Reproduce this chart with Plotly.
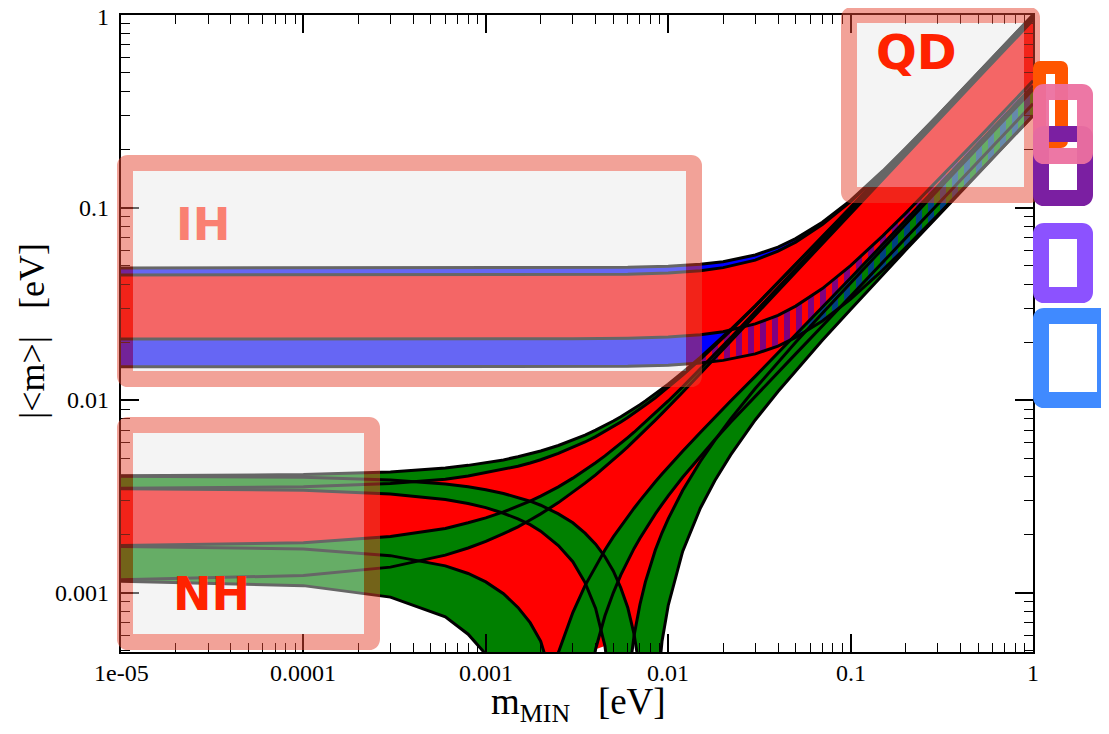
import numpy as np
import plotly.graph_objects as go

# ---------------- data ----------------
# lightest neutrino mass grid (eV) for the normal hierarchy curves
m_nh = [1e-5, 1e-4, 3e-4, 6e-4, 8e-4, 1e-3, 1.25e-3, 1.5e-3, 1.75e-3, 2e-3,
        2.5e-3, 3e-3, 3.5e-3, 4e-3, 4.5e-3, 5e-3, 5.5e-3, 6e-3, 6.5e-3, 7e-3,
        7.5e-3, 8.5e-3, 9.25e-3, 1e-2, 1.2e-2, 1.5e-2, 1.8e-2, 2.2e-2, 3e-2, 4e-2,
        5e-2, 7e-2, 0.1, 0.2, 0.5, 1.0]
# NH: rising upper band (outer / inner edge)
nh_s1_3s = [0.00405, 0.00411, 0.00424, 0.00445, 0.00459, 0.00473, 0.0049, 0.00509, 0.00527, 0.00545,
            0.00582, 0.0062, 0.00659, 0.00699, 0.00739, 0.0078, 0.00821, 0.00863, 0.00906, 0.00948,
            0.00992, 0.0108, 0.01147, 0.0121, 0.01396, 0.0167, 0.01958, 0.0233, 0.0309, 0.04093,
            0.0507, 0.07055, 0.1003, 0.200, 0.4995, 0.999]
nh_s1_bf = [0.00349, 0.00355, 0.00369, 0.00389, 0.00404, 0.0042, 0.00436, 0.00454, 0.00472, 0.00491,
            0.0053, 0.00568, 0.00607, 0.00647, 0.00688, 0.00729, 0.00771, 0.00813, 0.00856, 0.0090,
            0.00944, 0.0103, 0.011, 0.0117, 0.01352, 0.0163, 0.01919, 0.0230, 0.0308, 0.04067,
            0.0506, 0.0702, 0.0995, 0.198, 0.495, 0.99]
# NH: rising lower band
nh_s3_bf = [0.00176, 0.00182, 0.00196, 0.00216, 0.00231, 0.00245, 0.00263, 0.00281, 0.00299, 0.00318,
            0.00355, 0.00394, 0.00433, 0.00474, 0.00514, 0.00555, 0.00597, 0.0064, 0.00682, 0.00726,
            0.00769, 0.00857, 0.00924, 0.00991, 0.01174, 0.01453, 0.01735, 0.0211, 0.0288, 0.0385,
            0.0481, 0.0674, 0.0964, 0.1929, 0.482, 0.9645]
nh_s3_3s = [0.00117, 0.00123, 0.00136, 0.00157, 0.00171, 0.00185, 0.00203, 0.0022, 0.00239, 0.00257,
            0.00294, 0.00332, 0.00371, 0.0041, 0.0045, 0.0049, 0.00532, 0.00573, 0.00615, 0.00658,
            0.00701, 0.00788, 0.00854, 0.0092, 0.011, 0.01375, 0.01652, 0.02025, 0.0278, 0.03723,
            0.0467, 0.06557, 0.0939, 0.1881, 0.4705, 0.941]
# NH: band falling from the upper level (cancellation, then rising again)
nh_s2_bf = [0.00347, 0.00341, 0.00326, 0.00305, 0.00291, 0.00277, 0.00259, 0.00242, 0.00226, 0.00209,
            0.00176, 0.00145, 0.00113, 0.00083, 0.00053, 0.00024, 0.00005, 0.00033, 0.0006, 0.00087,
            0.00114, 0.00167, 0.00205, 0.00242, 0.0034, 0.00481, 0.00619, 0.0080, 0.0115, 0.0157,
            0.0200, 0.0283, 0.0407, 0.082, 0.205, 0.410]
nh_s2_3s = [0.00403, 0.00398, 0.00385, 0.00367, 0.00355, 0.00343, 0.00328, 0.00313, 0.00299, 0.00285,
            0.00257, 0.00231, 0.00204, 0.00179, 0.00154, 0.0013, 0.00106, 0.00084, 0.00061, 0.00039,
            0.00017, 0.00025, 0.00056, 0.00086, 0.00164, 0.00275, 0.00382, 0.0052, 0.0079, 0.0111,
            0.0142, 0.0205, 0.0296, 0.060, 0.150, 0.301]
# NH: band falling from the lower level
nh_s4_bf = [0.00174, 0.00169, 0.00156, 0.00138, 0.00126, 0.00114, 0.00099, 0.00084, 0.0007, 0.00056,
            0.00028, 0.00001, 0.00025, 0.00051, 0.00076, 0.0010, 0.00124, 0.00147, 0.0017, 0.00192,
            0.00214, 0.00257, 0.00288, 0.00319, 0.00398, 0.00512, 0.00623, 0.00768, 0.0105, 0.0140,
            0.0174, 0.0243, 0.0347, 0.0692, 0.173, 0.346]
nh_s4_3s = [0.00115, 0.00109, 0.00095, 0.00075, 0.00061, 0.00048, 0.00031, 0.00015, 0.00001, 0.00017,
            0.00049, 0.00079, 0.00109, 0.00138, 0.00167, 0.00195, 0.00222, 0.00249, 0.00275, 0.00301,
            0.00327, 0.00377, 0.00414, 0.0045, 0.00544, 0.0068, 0.00814, 0.0099, 0.0133, 0.0176,
            0.0218, 0.0303, 0.0431, 0.0859, 0.2145, 0.429]

# inverted hierarchy
m_ih = [1e-5, 1e-3, 3e-3, 6e-3, 1e-2, 1.5e-2, 2e-2, 3e-2, 4e-2, 5e-2, 7e-2, 0.1, 0.15, 0.2, 0.3, 0.5, 0.7, 1.0]
ih_top_3s = [0.0486, 0.0486, 0.0487, 0.049, 0.0496, 0.0508, 0.0524, 0.0568, 0.0624, 0.069, 0.084, 0.109,
             0.155, 0.203, 0.301, 0.5, 0.7, 1.0]
ih_top_bf = [0.0447, 0.0447, 0.0448, 0.0451, 0.0457, 0.047, 0.0488, 0.0534, 0.0594, 0.0662, 0.0817, 0.1075,
             0.153, 0.2005, 0.297, 0.491, 0.686, 0.98]
ih_bot_bf = [0.0208, 0.0208, 0.02085, 0.021, 0.0213, 0.0219, 0.0227, 0.0249, 0.0276, 0.0308, 0.038, 0.050,
             0.0713, 0.0934, 0.138, 0.228, 0.319, 0.455]
ih_bot_3s = [0.0149, 0.0149, 0.0149, 0.0150, 0.0152, 0.0156, 0.0161, 0.0174, 0.0191, 0.0212, 0.0258, 0.0335,
             0.0474, 0.0618, 0.0912, 0.151, 0.21, 0.30]

x_tick_vals = [1e-5, 1e-4, 1e-3, 1e-2, 1e-1, 1]
x_tick_text = ["1e-05", "0.0001", "0.001", "0.01", "0.1", "1"]
y_tick_vals = [1e-3, 1e-2, 1e-1, 1]
y_tick_text = ["0.001", "0.01", "0.1", "1"]

# ---------------- styling ----------------
RED = "#ff0000"
GREEN = "#008000"
BLUE = "#0000ff"
W, H = 1101, 726          # page adds an 8 px body margin
L, T = 113, 7
PW, PH = 912, 637
R, B = W - L - PW, H - T - PH
SX, SY = L + 8, T + 8     # screen position of the plot area's top-left corner

fig = go.Figure()


def band(x, hi, lo, color, pattern=None):
    xs = list(x) + list(x)[::-1]
    ys = list(hi) + list(lo)[::-1]
    kw = {}
    if pattern is not None:
        kw["fillpattern"] = pattern
        color = "rgba(0,0,0,0)"
    fig.add_trace(go.Scatter(x=xs, y=ys, mode="lines", line=dict(width=0, color=color),
                             fill="toself", fillcolor=color, hoverinfo="skip",
                             showlegend=False, **kw))


def curve(x, y, width=3):
    fig.add_trace(go.Scatter(x=x, y=y, mode="lines", line=dict(color="black", width=width),
                             hoverinfo="skip", showlegend=False))


nh_all = np.array([nh_s1_3s, nh_s1_bf, nh_s3_bf, nh_s3_3s, nh_s2_bf, nh_s2_3s, nh_s4_bf, nh_s4_3s])

# IH base
band(m_ih, ih_top_bf, ih_bot_bf, RED)
band(m_ih, ih_top_3s, ih_top_bf, BLUE)
band(m_ih, ih_bot_bf, ih_bot_3s, BLUE)
# NH base
band(m_nh, nh_all.max(axis=0), nh_all.min(axis=0), RED)
band(m_nh, nh_s1_3s, nh_s1_bf, GREEN)
band(m_nh, nh_s3_bf, nh_s3_3s, GREEN)
band(m_nh, nh_s2_3s, nh_s2_bf, GREEN)
band(m_nh, nh_s4_bf, nh_s4_3s, GREEN)
# IH 3 sigma bands hatched over the overlap
stripes = dict(shape="|", fgcolor=BLUE, bgcolor="rgba(0,0,0,0)", size=12, solidity=0.5)
band(m_ih, ih_bot_bf, ih_bot_3s, BLUE, pattern=stripes)
band(m_ih, ih_top_3s, ih_top_bf, BLUE, pattern=stripes)

for yy in nh_all:
    curve(m_nh, list(yy))
for yy in (ih_top_3s, ih_top_bf, ih_bot_bf, ih_bot_3s):
    curve(m_ih, yy)


# ---------------- boxes (screen pixel positions -> paper) ----------------
def X(p):
    return (p - SX) / PW


def Y(p):
    return (SY + PH - p) / PH


def rr(x0, y0, x1, y1, r):
    return " ".join([
        f"M{X(x0 + r)},{Y(y0)}", f"L{X(x1 - r)},{Y(y0)}", f"Q{X(x1)},{Y(y0)} {X(x1)},{Y(y0 + r)}",
        f"L{X(x1)},{Y(y1 - r)}", f"Q{X(x1)},{Y(y1)} {X(x1 - r)},{Y(y1)}",
        f"L{X(x0 + r)},{Y(y1)}", f"Q{X(x0)},{Y(y1)} {X(x0)},{Y(y1 - r)}",
        f"L{X(x0)},{Y(y0 + r)}", f"Q{X(x0)},{Y(y0)} {X(x0 + r)},{Y(y0)}", "Z"])


shapes = []


def box(x0, y0, x1, y1, w, color, r=3, fill=None):
    if fill:
        shapes.append(dict(type="rect", xref="paper", yref="paper", layer="above",
                           x0=X(x0 + w), x1=X(x1 - w), y0=Y(y1 - w), y1=Y(y0 + w),
                           fillcolor=fill, line=dict(width=0)))
    h = w / 2
    shapes.append(dict(type="path", xref="paper", yref="paper", layer="above",
                       path=rr(x0 + h, y0 + h, x1 - h, y1 - h, r),
                       fillcolor="rgba(0,0,0,0)", line=dict(color=color, width=w)))


BOXFILL = "rgba(230,230,230,0.443)"
BOXLINE = "rgba(230,70,50,0.5)"
box(117, 155, 702, 387, 16, BOXLINE, fill=BOXFILL)
box(117, 417, 380, 650, 16, BOXLINE, fill=BOXFILL)
box(841, 7, 1040, 203, 16, BOXLINE, fill=BOXFILL)

# coloured frames at the right margin
box(1033, 61, 1068, 148, 13, "#ff5500", r=0.5)
box(1033, 126, 1093, 206, 16, "#7b1fa2")
box(1033, 84, 1093, 164, 16, "rgba(236,112,160,0.95)")
box(1033, 223, 1093, 303, 16, "#8c52ff")
box(1033, 308, 1113, 408, 16, "#408aff")

annotations = [
    dict(text="<b>IH</b>", x=X(203), y=Y(224), font=dict(family="DejaVu Sans", size=45, color="#fa8072")),
    dict(text="<b>NH</b>", x=X(211), y=Y(594), font=dict(family="DejaVu Sans", size=46, color="#ff2200")),
    dict(text="<b>QD</b>", x=X(916), y=Y(52), font=dict(family="DejaVu Sans", size=48, color="#ff2200")),
    dict(text="m<sub>MIN</sub>\u00a0\u00a0\u00a0[eV]", x=X(578), y=Y(704),
         font=dict(family="Liberation Serif", size=37, color="black")),
    dict(text="|&lt;m&gt;|\u00a0\u00a0\u00a0[eV]", x=X(32), y=Y(331), textangle=-90,
         font=dict(family="Liberation Serif", size=36, color="black")),
]
for a in annotations:
    a.update(xref="paper", yref="paper", showarrow=False, xanchor="center", yanchor="middle")

tick_font = dict(family="Liberation Serif", size=24, color="black")
# x tick labels placed just under the axis
for v, t in zip(x_tick_vals, x_tick_text):
    annotations.append(dict(text=t, x=np.log10(v), xref="x", y=Y(673), yref="paper",
                            showarrow=False, xanchor="center", yanchor="middle", font=tick_font))
# y tick labels left of the axis
for v, t in zip(y_tick_vals, y_tick_text):
    annotations.append(dict(text=t, y=np.log10(v), yref="y", x=X(111), xref="paper",
                            showarrow=False, xanchor="right", yanchor="middle", font=tick_font,
                            height=18, yshift=-2 if t == "1" else 0))

minor_x = [k * 10.0 ** e for e in range(-5, 0) for k in range(2, 10)]
minor_y = [k * 10.0 ** e for e in range(-4, 0) for k in range(2, 10)]

axis_common = dict(type="log", ticks="inside", ticklen=18, tickwidth=1.5, tickcolor="black",
                   showline=True, linewidth=2, linecolor="black", mirror="allticks",
                   showgrid=False, zeroline=False, showticklabels=False)

fig.update_xaxes(range=[-5, 0], tickmode="array", tickvals=x_tick_vals,
                 minor=dict(tickmode="array", tickvals=minor_x, ticks="inside", ticklen=9,
                            tickwidth=1.2, tickcolor="black", showgrid=False),
                 **axis_common)
fig.update_yaxes(range=[np.log10(0.000493), 0], tickmode="array", tickvals=y_tick_vals,
                 minor=dict(tickmode="array", tickvals=minor_y, ticks="inside", ticklen=9,
                            tickwidth=1.2, tickcolor="black", showgrid=False),
                 **axis_common)

fig.update_layout(width=W, height=H, margin=dict(l=L, r=R, t=T, b=B, autoexpand=False),
                  paper_bgcolor="white", plot_bgcolor="white", showlegend=False,
                  shapes=shapes, annotations=annotations)

fig.write_html("out.html")
